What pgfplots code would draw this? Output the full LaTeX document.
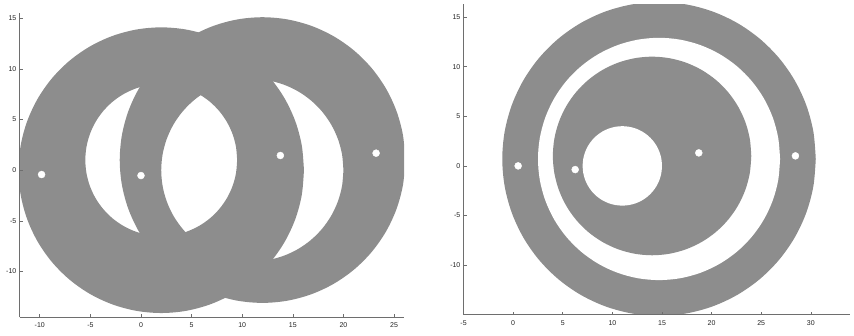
\documentclass[border=0pt]{standalone}
\usepackage{pgfplots}
\pgfplotsset{compat=1.18}
\usepackage{fontspec}
\setmainfont{Liberation Sans}
\definecolor{fillgray}{RGB}{141,141,141}
\definecolor{axgray}{RGB}{110,110,110}
\definecolor{lblgray}{RGB}{35,35,35}
\pgfplotsset{
  mystyle/.style={
    scale only axis,
    axis lines*=left,
    axis line style={axgray, line width=0.7bp},
    tick style={axgray, line width=0.6bp},
    major tick length=3bp,
    tick align=inside,
    clip=true,
    axis on top,
    tick label style={font=\fontsize{7bp}{8bp}\selectfont, text=lblgray, inner sep=0pt},
    xticklabel style={anchor=north, yshift=-5.3bp},
    yticklabel style={anchor=east, xshift=-3bp},
  },
  ring/.style={fill=fillgray, draw=none, smooth, tension=0.55, even odd rule, unbounded coords=jump, forget plot},
  disk/.style={fill=#1, draw=none, smooth, tension=0.55, forget plot},
  dots/.style={only marks, mark=*, mark size=3.5pt, mark options={fill=white, draw=white, solid}, forget plot},
}
\begin{document}
\begin{tikzpicture}[x=1bp,y=1bp]
\useasboundingbox (0,0) rectangle (854,335);
% ---------------- left panel ----------------
\begin{axis}[mystyle,
  at={(19.3,17.7)}, anchor=south west,
  width=384.6bp, height=303.9bp,
  xmin=-12, xmax=26, ymin=-14.5, ymax=15.5,
  xtick={-10,-5,0,5,10,15,20,25},
  xticklabels={-10,-5,0,5,10,15,20,25},
  ytick={-10,-5,0,5,10,15},
  yticklabels={-10,-5,0,5,10,15},
]
% annulus A: outer (2,0) R=14.1, inner (2,1) r=7.5
\addplot[ring] coordinates {
(16.1,0) (15.886,2.448) (15.25,4.822) (14.211,7.05) (12.801,9.063) (11.063,10.801) (9.05,12.211) (6.822,13.25) (4.448,13.886) (2,14.1) (-0.448,13.886) (-2.822,13.25) (-5.05,12.211) (-7.063,10.801) (-8.801,9.063) (-10.211,7.05) (-11.25,4.822) (-11.886,2.448) (-12.1,0) (-11.886,-2.448) (-11.25,-4.822) (-10.211,-7.05) (-8.801,-9.063) (-7.063,-10.801) (-5.05,-12.211) (-2.822,-13.25) (-0.448,-13.886) (2,-14.1) (4.448,-13.886) (6.822,-13.25) (9.05,-12.211) (11.063,-10.801) (12.801,-9.063) (14.211,-7.05) (15.25,-4.822) (15.886,-2.448) (16.1,0)
(nan,nan)
(9.5,1) (9.386,2.302) (9.048,3.565) (8.495,4.75) (7.745,5.821) (6.821,6.745) (5.75,7.495) (4.565,8.048) (3.302,8.386) (2,8.5) (0.698,8.386) (-0.565,8.048) (-1.75,7.495) (-2.821,6.745) (-3.745,5.821) (-4.495,4.75) (-5.048,3.565) (-5.386,2.302) (-5.5,1) (-5.386,-0.302) (-5.048,-1.565) (-4.495,-2.75) (-3.745,-3.821) (-2.821,-4.745) (-1.75,-5.495) (-0.565,-6.048) (0.698,-6.386) (2,-6.5) (3.302,-6.386) (4.565,-6.048) (5.75,-5.495) (6.821,-4.745) (7.745,-3.821) (8.495,-2.75) (9.048,-1.565) (9.386,-0.302) (9.5,1)
};
% annulus B: outer (12,1) R=14.1, inner (11,0) r=9
\addplot[ring] coordinates {
(26.1,1) (25.886,3.448) (25.25,5.822) (24.211,8.05) (22.801,10.063) (21.063,11.801) (19.05,13.211) (16.822,14.25) (14.448,14.886) (12,15.1) (9.552,14.886) (7.178,14.25) (4.95,13.211) (2.937,11.801) (1.199,10.063) (-0.211,8.05) (-1.25,5.822) (-1.886,3.448) (-2.1,1) (-1.886,-1.448) (-1.25,-3.822) (-0.211,-6.05) (1.199,-8.063) (2.937,-9.801) (4.95,-11.211) (7.178,-12.25) (9.552,-12.886) (12,-13.1) (14.448,-12.886) (16.822,-12.25) (19.05,-11.211) (21.063,-9.801) (22.801,-8.063) (24.211,-6.05) (25.25,-3.822) (25.886,-1.448) (26.1,1)
(nan,nan)
(20,0) (19.863,1.563) (19.457,3.078) (18.794,4.5) (17.894,5.785) (16.785,6.894) (15.5,7.794) (14.078,8.457) (12.563,8.863) (11,9) (9.437,8.863) (7.922,8.457) (6.5,7.794) (5.215,6.894) (4.106,5.785) (3.206,4.5) (2.543,3.078) (2.137,1.563) (2,0) (2.137,-1.563) (2.543,-3.078) (3.206,-4.5) (4.106,-5.785) (5.215,-6.894) (6.5,-7.794) (7.922,-8.457) (9.437,-8.863) (11,-9) (12.563,-8.863) (14.078,-8.457) (15.5,-7.794) (16.785,-6.894) (17.894,-5.785) (18.794,-4.5) (19.457,-3.078) (19.863,-1.563) (20,0)
};
\addplot[dots] coordinates {(-9.82,-0.43) (0,-0.53) (13.77,1.45) (23.23,1.68)};
\end{axis}
% ---------------- right panel ----------------
\begin{axis}[mystyle,
  at={(467.3,20.3)}, anchor=south west,
  width=386.9bp, height=310.8bp,
  xmin=-5, xmax=34, ymin=-15, ymax=16.3,
  xtick={-5,0,5,10,15,20,25,30},
  xticklabels={-5,0,5,10,15,20,25,30},
  ytick={-10,-5,0,5,10,15},
  yticklabels={-10,-5,0,5,10,15},
]
% outer disk (14.7,0.7) R=15.8
\addplot[disk=fillgray] coordinates {
(30.5,0.7) (30.26,3.444) (29.547,6.104) (28.383,8.6) (26.803,10.856) (24.856,12.803) (22.6,14.383) (20.104,15.547) (17.444,16.26) (14.7,16.5) (11.956,16.26) (9.296,15.547) (6.8,14.383) (4.544,12.803) (2.597,10.856) (1.017,8.6) (-0.147,6.104) (-0.86,3.444) (-1.1,0.7) (-0.86,-2.044) (-0.147,-4.704) (1.017,-7.2) (2.597,-9.456) (4.544,-11.403) (6.8,-12.983) (9.296,-14.147) (11.956,-14.86) (14.7,-15.1) (17.444,-14.86) (20.104,-14.147) (22.6,-12.983) (24.856,-11.403) (26.803,-9.456) (28.383,-7.2) (29.547,-4.704) (30.26,-2.044) (30.5,0.7)
};
% white ring boundary (14.7,0.7) r=12.2
\addplot[disk=white] coordinates {
(26.9,0.7) (26.715,2.819) (26.164,4.873) (25.266,6.8) (24.046,8.542) (22.542,10.046) (20.8,11.266) (18.873,12.164) (16.819,12.715) (14.7,12.9) (12.581,12.715) (10.527,12.164) (8.6,11.266) (6.858,10.046) (5.354,8.542) (4.134,6.8) (3.236,4.873) (2.685,2.819) (2.5,0.7) (2.685,-1.419) (3.236,-3.473) (4.134,-5.4) (5.354,-7.142) (6.858,-8.646) (8.6,-9.866) (10.527,-10.764) (12.581,-11.315) (14.7,-11.5) (16.819,-11.315) (18.873,-10.764) (20.8,-9.866) (22.542,-8.646) (24.046,-7.142) (25.266,-5.4) (26.164,-3.473) (26.715,-1.419) (26.9,0.7)
};
% inner gray disk (14,1) r=10
\addplot[disk=fillgray] coordinates {
(24,1) (23.848,2.736) (23.397,4.42) (22.66,6) (21.66,7.428) (20.428,8.66) (19,9.66) (17.42,10.397) (15.736,10.848) (14,11) (12.264,10.848) (10.58,10.397) (9,9.66) (7.572,8.66) (6.34,7.428) (5.34,6) (4.603,4.42) (4.152,2.736) (4,1) (4.152,-0.736) (4.603,-2.42) (5.34,-4) (6.34,-5.428) (7.572,-6.66) (9,-7.66) (10.58,-8.397) (12.264,-8.848) (14,-9) (15.736,-8.848) (17.42,-8.397) (19,-7.66) (20.428,-6.66) (21.66,-5.428) (22.66,-4) (23.397,-2.42) (23.848,-0.736) (24,1)
};
% small white disk (11,0) r=4
\addplot[disk=white] coordinates {
(15,0) (14.939,0.695) (14.759,1.368) (14.464,2) (14.064,2.571) (13.571,3.064) (13,3.464) (12.368,3.759) (11.695,3.939) (11,4) (10.305,3.939) (9.632,3.759) (9,3.464) (8.429,3.064) (7.936,2.571) (7.536,2) (7.241,1.368) (7.061,0.695) (7,0) (7.061,-0.695) (7.241,-1.368) (7.536,-2) (7.936,-2.571) (8.429,-3.064) (9,-3.464) (9.632,-3.759) (10.305,-3.939) (11,-4) (11.695,-3.939) (12.368,-3.759) (13,-3.464) (13.571,-3.064) (14.064,-2.571) (14.464,-2) (14.759,-1.368) (14.939,-0.695) (15,0)
};
\addplot[dots] coordinates {(0.5,0) (6.25,-0.37) (18.71,1.31) (28.45,1.01)};
\end{axis}
\end{tikzpicture}
\end{document}
